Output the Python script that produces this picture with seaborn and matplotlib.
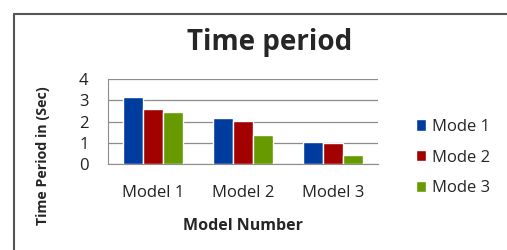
import matplotlib
matplotlib.use('Agg')
import matplotlib.pyplot as plt
import pandas as pd
import seaborn as sns

models = ['Model 1', 'Model 2', 'Model 3']
mode1 = [3.13, 2.18, 1.04]
mode2 = [2.60, 2.01, 0.99]
mode3 = [2.45, 1.38, 0.42]
modes = ['Mode 1', 'Mode 2', 'Mode 3']
colors = ['#003c9e', '#a30000', '#669a00']

df = pd.DataFrame({
    'model': models * 3,
    'mode': [m for m in modes for _ in models],
    'value': mode1 + mode2 + mode3,
})

sns.set_style('white')
plt.rcParams['font.family'] = ['Open Sans', 'DejaVu Sans']

fig = plt.figure(figsize=(5.07, 2.5), dpi=100)
ax = fig.add_axes([0.213, 0.344, 0.533, 0.34])

sns.barplot(data=df, x='model', y='value', hue='mode', palette=colors,
            width=0.67, saturation=1, ax=ax, zorder=3)

ax.set_ylim(0, 4)
ax.set_yticks([0, 1, 2, 3, 4])
ax.yaxis.grid(True, color='#8c8c8c', linewidth=0.9, zorder=0)
ax.set_axisbelow(True)
for s in ['top', 'right']:
    ax.spines[s].set_visible(False)
ax.spines['left'].set_color('#8c8c8c')
ax.spines['bottom'].set_color('#8c8c8c')
ax.tick_params(axis='y', labelsize=12, length=0, pad=14, colors='#222222')
ax.tick_params(axis='x', labelsize=12, length=0, pad=15, colors='#222222')
ax.set_xlim(-0.5, 2.5)

ax.set_xlabel('Model Number', fontsize=11.5, fontweight='bold', labelpad=12)
ax.set_ylabel('Time Period in (Sec)', fontsize=10.3, fontweight='bold')
ax.yaxis.set_label_coords(-0.215, 0.1)
fig.text(0.532, 0.83, 'Time period', ha='center', va='center',
         fontsize=20, fontweight='bold')

handles, labels = ax.get_legend_handles_labels()
ax.legend(handles, labels, loc='center left', bbox_to_anchor=(0.79, 0.37),
          bbox_transform=fig.transFigure, frameon=False, fontsize=12,
          handlelength=0.65, handleheight=0.65, handletextpad=0.35, labelspacing=0.88)

# chart frame
fig.add_artist(plt.Line2D([0.027, 0.027], [0, 0.944], color='#555555', lw=1.5))
fig.add_artist(plt.Line2D([0.027, 1.0], [0.944, 0.944], color='#555555', lw=1.5))

fig.savefig('out.png', dpi=100)
